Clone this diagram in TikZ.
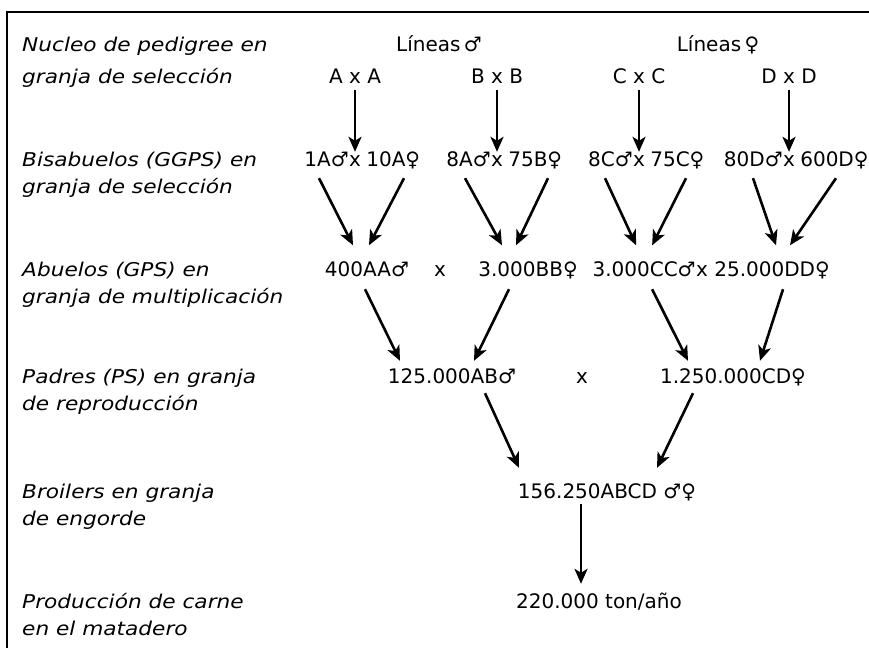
\documentclass[tikz,border=0pt]{standalone}
\usepackage{fontspec}
\setmainfont{DejaVu Sans}
\newfontfamily\labelfont[FakeStretch=1.14]{DejaVu Sans}
\usetikzlibrary{arrows.meta}

\begin{document}
\begin{tikzpicture}[x=1pt,y=-1pt,
  lab/.style={anchor=base west, inner sep=0pt,
    font=\labelfont\itshape\fontsize{19}{24}\selectfont},
  ctr/.style={anchor=base, inner sep=0pt, text height=15pt, text depth=4pt,
    font=\fontsize{20}{24}\selectfont},
  arr/.style={line width=2.6pt, -{Stealth[length=15pt,width=13pt,inset=4pt]}},
  frame/.style={line width=1.8pt}]

\useasboundingbox (0,0) rectangle (869,648);

% open frame: top and left edges
\coordinate (fTR) at (869,12);
\coordinate (fTL) at (7,12);
\coordinate (fBL) at (7,648);
\draw[frame] (fTR) -- (fTL) -- (fBL);

% generation labels on the left
\node[lab] (l1a) at (22,51) {Nucleo de pedigree en};
\node[lab] (l1b) at (22,83.5) {granja de selección};
\node[lab] (l2a) at (22,166) {Bisabuelos (GGPS) en};
\node[lab] (l2b) at (22,193) {granja de selección};
\node[lab] (l3a) at (22,276.5) {Abuelos (GPS) en};
\node[lab] (l3b) at (22,303.5) {granja de multiplicación};
\node[lab] (l4a) at (22,383.5) {Padres (PS) en granja};
\node[lab] (l4b) at (22,410.5) {de reproducción};
\node[lab] (l5a) at (22,498) {Broilers en granja};
\node[lab] (l5b) at (22,525) {de engorde};
\node[lab] (l6a) at (22,608) {Producción de carne};
\node[lab] (l6b) at (22,635) {en el matadero};

% pure lines
\node[ctr] (lm) at (439,51) {Líneas\,♂};
\node[ctr] (lf) at (718,51) {Líneas\,♀};
\node[ctr] (nA) at (355,83.5) {A x A};
\node[ctr] (nB) at (497,83.5) {B x B};
\node[ctr] (nC) at (639,83.5) {C x C};
\node[ctr] (nD) at (789,83.5) {D x D};

% great-grandparents
\node[ctr] (g1x) at (355,166) {x};
\node[ctr,anchor=base east] (g1m) at (g1x.base west) {1A♂};
\node[ctr,anchor=base west] (g1f) at ([xshift=5pt]g1x.base east) {10A♀};
\node[ctr] (g2x) at (497,166) {x};
\node[ctr,anchor=base east] (g2m) at (g2x.base west) {8A♂};
\node[ctr,anchor=base west] (g2f) at ([xshift=5pt]g2x.base east) {75B♀};
\node[ctr] (g3x) at (639,166) {x};
\node[ctr,anchor=base east] (g3m) at (g3x.base west) {8C♂};
\node[ctr,anchor=base west] (g3f) at ([xshift=5pt]g3x.base east) {75C♀};
\node[ctr] (g4x) at (789,166) {x};
\node[ctr,anchor=base east] (g4m) at (g4x.base west) {80D♂};
\node[ctr,anchor=base west] (g4f) at ([xshift=5pt]g4x.base east) {600D♀};

% grandparents
\node[ctr] (p1) at (367,276.5) {400AA♂};
\node[ctr] (x4a) at (440,276.5) {x};
\node[ctr] (p2) at (528,276.5) {3.000BB♀};
\node[ctr] (x4b) at (702,276.5) {x};
\node[ctr,anchor=base east] (p3) at (x4b.base west) {3.000CC♂};
\node[ctr,anchor=base west] (p4) at ([xshift=6pt]x4b.base east) {25.000DD♀};

% parents
\node[ctr] (q1) at (452,383.5) {125.000AB♂};
\node[ctr] (x5) at (582,383.5) {x};
\node[ctr] (q2) at (733,383.5) {1.250.000CD♀};

% broilers and meat
\node[ctr] (r) at (607,498) {156.250ABCD ♂♀};
\node[ctr] (s) at (599,608) {220.000 ton/año};

% pedigree -> great-grandparents
\foreach \n/\g in {nA/g1x,nB/g2x,nC/g3x,nD/g4x}
  \draw[arr] ([yshift=-2]\n.south) -- ([yshift=-1]\g.north);

% great-grandparents -> grandparents
\draw[arr] ([shift={(-36,8)}]g1x.south) -- ([shift={(-14,-16)}]p1.north);
\draw[arr] ([shift={(49,8)}]g1x.south) -- ([shift={(2,-16)}]p1.north);
\draw[arr] ([shift={(-32,8)}]g2x.south) -- ([shift={(-26,-16)}]p2.north);
\draw[arr] ([shift={(51,8)}]g2x.south) -- ([shift={(-12,-16)}]p2.north);
\draw[arr] ([shift={(-34,8)}]g3x.south) -- ([shift={(-8,-16)}]p3.north);
\draw[arr] ([shift={(47,8)}]g3x.south) -- ([shift={(8,-16)}]p3.north);
\draw[arr] ([shift={(-36,8)}]g4x.south) -- ([shift={(4,-16)}]p4.north);
\draw[arr] ([shift={(47,8)}]g4x.south) -- ([shift={(18,-16)}]p4.north);

% grandparents -> parents
\draw[arr] ([shift={(-2,8.5)}]p1.south) -- ([shift={(-52,-7.5)}]q1.north);
\draw[arr] ([shift={(-19,8.5)}]p2.south) -- ([shift={(22,-7.5)}]q1.north);
\draw[arr] ([shift={(8,8.5)}]p3.south) -- ([shift={(-45,-7.5)}]q2.north);
\draw[arr] ([shift={(11,8.5)}]p4.south) -- ([shift={(27,-7.5)}]q2.north);

% parents -> broilers
\draw[arr] ([shift={(33,5.5)}]q1.south) -- ([shift={(-88,-15)}]r.north);
\draw[arr] ([shift={(-40,5.5)}]q2.south) -- ([shift={(50,-15)}]r.north);

% broilers -> meat
\draw[arr] ([shift={(-26,2)}]r.south) -- ([shift={(-18,-9)}]s.north);

\end{tikzpicture}
\end{document}
